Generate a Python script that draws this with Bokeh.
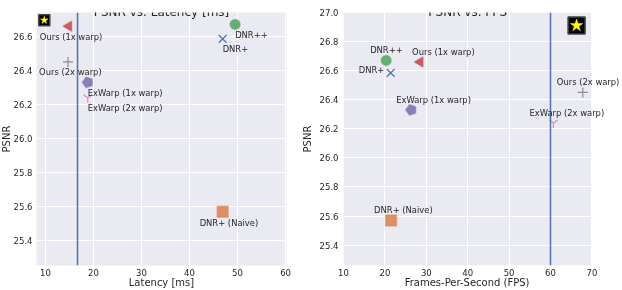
import math
from bokeh.plotting import figure
from bokeh.layouts import row
from bokeh.models import (Range1d, Span, Label, BoxAnnotation, FixedTicker,
                          PrintfTickFormatter)
from bokeh.embed import file_html
from bokeh.resources import INLINE

# ---------------- data ----------------
methods = ["Ours (1x warp)", "Ours (2x warp)", "ExWarp (1x warp)", "ExWarp (2x warp)",
           "DNR++", "DNR+", "DNR+ (Naive)"]
psnr = [26.66, 26.45, 26.33, 26.24, 26.67, 26.585, 25.57]
latency_ms = [14.85, 14.7, 18.8, 18.8, 49.5, 46.9, 46.9]
fps = [28.5, 67.8, 26.35, 60.7, 20.3, 21.4, 21.5]

target_latency = [16.67]
target_fps = [60]

ideal_lat_x = [9.75]
ideal_lat_y = [26.695]
ideal_fps_x = [66.3]
ideal_fps_y = [26.91]

lat_ticks = [10, 20, 30, 40, 50, 60]
fps_ticks = [10, 20, 30, 40, 50, 60, 70]
psnr_ticks_lat = [25.4, 25.6, 25.8, 26.0, 26.2, 26.4, 26.6]
psnr_ticks_fps = [25.4, 25.6, 25.8, 26.0, 26.2, 26.4, 26.6, 26.8, 27.0]

# axis extents
lat_axis = (8.125, 60.2)
fps_axis = (10, 70)
psnr_axis_lat = (25.255, 26.74)
psnr_axis_fps = (25.26, 27.0)

# ---------------- styles ----------------
FONT = "DejaVu Sans"
TXT = "#262626"
BG = "#EAEAF2"
colors = ["#C44E52", "#8C8C8C", "#8172B3", "#DA8BC3", "#55A868", "#4C72B0", "#DD8452"]
markers = ["triangle", "cross", "pentagon", "y", "circle", "x", "square"]
sizes = [10, 10, 11, 10, 10, 11, 11]
angles = [math.pi / 2, 0, 0, 0, 0, 0, 0]

# label offsets (pixels, +y down)
lat_dx = [-29, -29, 0, 0, 0, 0, -23]
lat_dy = [10.5, 10.5, 11, 10.7, 10.7, 9.7, 11.6]
fps_dx = [-8, -26, -15, -24, -16, -32, -17]
fps_dy = [-10, -10, -10, -10.4, -10, -2.4, -10]


def base_fig(width, xr, yr, mbl, mbr, mbb):
    p = figure(width=width, height=290, x_range=Range1d(*xr), y_range=Range1d(*yr),
               min_border_left=mbl, min_border_right=mbr, min_border_top=12,
               min_border_bottom=mbb, output_backend="svg", toolbar_location=None)
    p.background_fill_color = BG
    p.border_fill_color = "white"
    p.outline_line_color = None
    p.grid.grid_line_color = "white"
    p.grid.grid_line_width = 1
    for ax in (p.xaxis, p.yaxis):
        ax.axis_line_color = None
        ax.major_tick_line_color = None
        ax.minor_tick_line_color = None
        ax.major_tick_out = 0
        ax.major_tick_in = 0
        ax.minor_tick_out = 0
        ax.minor_tick_in = 0
        ax.major_label_text_font = FONT
        ax.major_label_text_font_size = "8.5px"
        ax.major_label_text_color = TXT
        ax.axis_label_text_font = FONT
        ax.axis_label_text_font_size = "10px"
        ax.axis_label_text_font_style = "normal"
        ax.axis_label_text_color = TXT
    p.yaxis.formatter = PrintfTickFormatter(format="%.1f")
    p.xaxis.formatter = PrintfTickFormatter(format="%d")
    p.xaxis.major_label_standoff = 3
    p.xaxis.axis_label_standoff = -2
    return p


def draw_points(p, xs, dx, dy):
    for i in range(len(methods)):
        c = colors[i]
        m = markers[i]
        if m == "pentagon":
            done = False
            if hasattr(p, "ngon"):
                try:
                    p.ngon(x=[xs[i]], y=[psnr[i]], radius=5.5, radius_units="screen", n=5,
                           angle=math.pi / 2, fill_color=c, fill_alpha=0.9,
                           line_color=c, line_alpha=0.5, line_width=1.5)
                    done = True
                except Exception:
                    done = False
            if not done:
                p.scatter(x=[xs[i]], y=[psnr[i]], marker="hex", size=sizes[i],
                          fill_color=c, fill_alpha=0.9, line_color=c, line_alpha=0.5,
                          line_width=1.5)
        elif m in ("cross", "y", "x"):
            p.scatter(x=[xs[i]], y=[psnr[i]], marker=m, size=sizes[i],
                      line_color=c, line_width=1.2)
        else:
            p.scatter(x=[xs[i]], y=[psnr[i]], marker=m, size=sizes[i], angle=angles[i],
                      fill_color=c, fill_alpha=0.9, line_color=c, line_alpha=0.45,
                      line_width=1.5)
        p.add_layout(Label(x=xs[i], y=psnr[i], x_offset=dx[i], y_offset=-dy[i],
                           text=methods[i], text_align="left", text_baseline="middle",
                           text_font=FONT, text_font_size="8.4px", text_color=TXT))


def ideal_icon(p, x, y, sq, st):
    p.scatter(x=x, y=y, marker="square", size=sq, fill_color="black",
              line_color="#444444", line_width=1.5)
    p.scatter(x=x, y=y, marker="star", size=st, fill_color="#FFFF00",
              line_color="#FFEE00", line_width=0.5)


def add_title(p, text, xr, yr):
    p.add_layout(Label(x=(xr[0] + xr[1]) / 2, y=yr[1], y_offset=0.5, text=text,
                       text_align="center", text_baseline="alphabetic",
                       text_font=FONT, text_font_size="12px", text_color=TXT))


# ---------------- left: PSNR vs latency ----------------
p1 = base_fig(301, lat_axis, psnr_axis_lat, 39, 12, 24)
p1.xaxis.ticker = FixedTicker(ticks=lat_ticks)
p1.yaxis.ticker = FixedTicker(ticks=psnr_ticks_lat)
p1.xaxis.axis_label = "Latency [ms]"
p1.yaxis.axis_label = "PSNR"
p1.yaxis.major_label_standoff = 4
p1.yaxis.axis_label_standoff = -1
p1.add_layout(Span(location=target_latency[0], dimension="height",
                   line_color="#4C72B0", line_width=1.5))
ideal_icon(p1, ideal_lat_x, ideal_lat_y, 11, 8)
draw_points(p1, latency_ms, lat_dx, lat_dy)
add_title(p1, "PSNR vs. Latency [ms]", lat_axis, psnr_axis_lat)

# ---------------- right: PSNR vs FPS ----------------
# the frame runs to the canvas edge so that the annotations past x=70 stay visible;
# the shaded plotting area is limited to the axis extent
px_per_fps = 4.14
fps_view_end = fps_axis[0] + (324 - 45) / px_per_fps
p2 = base_fig(324, (fps_axis[0], fps_view_end), psnr_axis_fps, 45, 0, 25)
p2.background_fill_color = "white"
p2.add_layout(BoxAnnotation(left=fps_axis[0], right=fps_axis[1], fill_color=BG,
                            fill_alpha=1.0, line_color=None, level="image"))
p2.xaxis.bounds = fps_axis
p2.xaxis.ticker = FixedTicker(ticks=fps_ticks)
p2.yaxis.ticker = FixedTicker(ticks=psnr_ticks_fps)
# trailing no-break spaces keep the axis title centred under the shaded area
p2.xaxis.axis_label = "Frames-Per-Second (FPS)" + "\u00a0" * 10
p2.yaxis.axis_label = "PSNR"
p2.yaxis.major_label_standoff = 5
p2.yaxis.axis_label_standoff = 4
p2.add_layout(Span(location=target_fps[0], dimension="height",
                   line_color="#4C72B0", line_width=1.5))
ideal_icon(p2, ideal_fps_x, ideal_fps_y, 17, 13)
draw_points(p2, fps, fps_dx, fps_dy)
add_title(p2, "PSNR vs. FPS", fps_axis, psnr_axis_fps)

layout = row(p1, p2, styles={"position": "fixed", "left": "-3px", "top": "0px"})

open("out.html", "w").write(file_html(layout, INLINE))
